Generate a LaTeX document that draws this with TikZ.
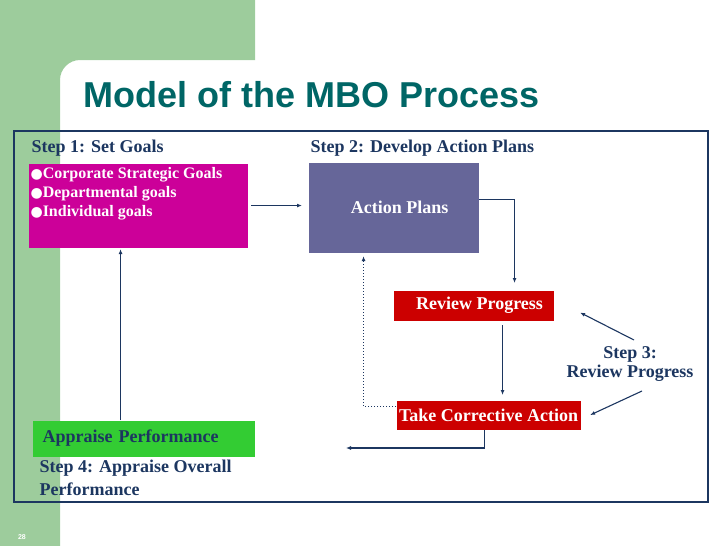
\documentclass[tikz,border=0pt]{standalone}
\usepackage{fontspec}
\setmainfont{Liberation Serif}
\newfontfamily\titlefont{Liberation Sans}
\newfontfamily\dotfont{DejaVu Sans}
\usetikzlibrary{arrows.meta,calc}

\definecolor{panelgreen}{RGB}{157,204,156}
\definecolor{titleteal}{RGB}{0,102,102}
\definecolor{navy}{RGB}{28,54,96}
\definecolor{goalmag}{RGB}{204,0,153}
\definecolor{planviolet}{RGB}{102,102,153}
\definecolor{reviewred}{RGB}{204,0,0}
\definecolor{appraisegreen}{RGB}{51,204,51}

\newcommand{\blt}{{\dotfont\fontsize{14}{14}\selectfont\raisebox{-.3pt}{●}}}

\begin{document}
\begin{tikzpicture}[x=1pt,y=-1pt,line width=1.1pt,
  arr/.style={draw=navy,-{Latex[length=5pt,width=4pt]}},
  box/.style={inner sep=0pt,anchor=north west,text=white,
    font=\bfseries\fontsize{18}{20}\selectfont},
  steplabel/.style={inner sep=0pt,text=navy,font=\bfseries\fontsize{18}{19}\selectfont}]
\useasboundingbox (0,0) rectangle (728,546);
% Le bandeau vert en L avec son coin arrondi.
\fill[panelgreen] (0,0) -- (255,0) -- (255,60) -- (80,60)
      .. controls (69,60) and (60,69) .. (60,80) -- (60,546) -- (0,546) -- cycle;
\node[anchor=base west,inner sep=0pt,text=titleteal,
      font=\titlefont\bfseries\fontsize{36}{40}\selectfont] (title) at (83,107) {Model of the MBO Process};
\node[text=white,font=\titlefont\bfseries\fontsize{7}{8}\selectfont] (pagenum) at (22,537) {28};
\draw[navy,line width=1.2pt] (14,131) rectangle (708,502);
% Les quatre boites du cycle.
\node[box,fill=goalmag,minimum width=219pt,minimum height=84pt] (goals) at (28,163) {};
\node[box,anchor=north west,align=left,font=\bfseries\fontsize{16}{19}\selectfont] (goallist) at (30,167)
  {\blt Corporate Strategic Goals\\\blt Departmental goals\\\blt Individual goals};
\node[box,fill=planviolet,minimum width=170pt,minimum height=90pt] (plans) at (308,162) {\hspace{12pt}Action Plans};
\node[box,fill=reviewred,minimum width=160pt,minimum height=30pt] (review) at (393,290) {\hspace{12pt}Review Progress};
\node[box,fill=reviewred,minimum width=184pt,minimum height=29pt] (corrective) at (396,400) {Take Corrective Action};
\node[box,fill=appraisegreen,text=navy,minimum width=222pt,minimum height=36pt,
      text width=202pt,align=left] (appraise) at (32,420) {Appraise Performance};
% Les etiquettes des etapes.
\node[steplabel,anchor=west] (step1) at (31,148) {Step 1: Set Goals};
\node[steplabel,anchor=west] (step2) at (310,148) {Step 2: Develop Action Plans};
\node[steplabel,align=center] (step3) at (630,364) {Step 3:\\Review Progress};
\node[steplabel,anchor=north west,align=left,font=\bfseries\fontsize{18}{23}\selectfont] (step4) at (39,459)
  {Step 4: Appraise Overall\\Performance};
% Les fleches.
\draw[arr,shorten <=3pt,shorten >=6pt] (goals.east) -- (goals.east -| plans.west);
\draw[arr,shorten >=7pt] ([yshift=8pt]plans.east) -| ([xshift=41pt]review.north);
\draw[arr,shorten <=4pt,shorten >=5pt] ([xshift=29pt]review.south) -- ([xshift=29pt]review.south |- corrective.north);
\coordinate (back) at (346,448);
\draw[arr] ([xshift=-4pt]corrective.south) |- (back);
\draw[arr,dotted,line width=1pt,shorten >=3pt] ([yshift=9pt]corrective.west) -| ([xshift=-30pt]plans.south);
\draw[arr,shorten >=1pt] ([xshift=-23pt]appraise.north) -- ([xshift=-23pt]appraise.north |- goals.south);
\draw[arr] ($(step3.north)+(4,-6)$) -- ($(review.east)+(26,7)$);
\draw[arr] ($(step3.south)+(12,9)$) -- ($(corrective.east)+(9,0)$);
\end{tikzpicture}
\end{document}
